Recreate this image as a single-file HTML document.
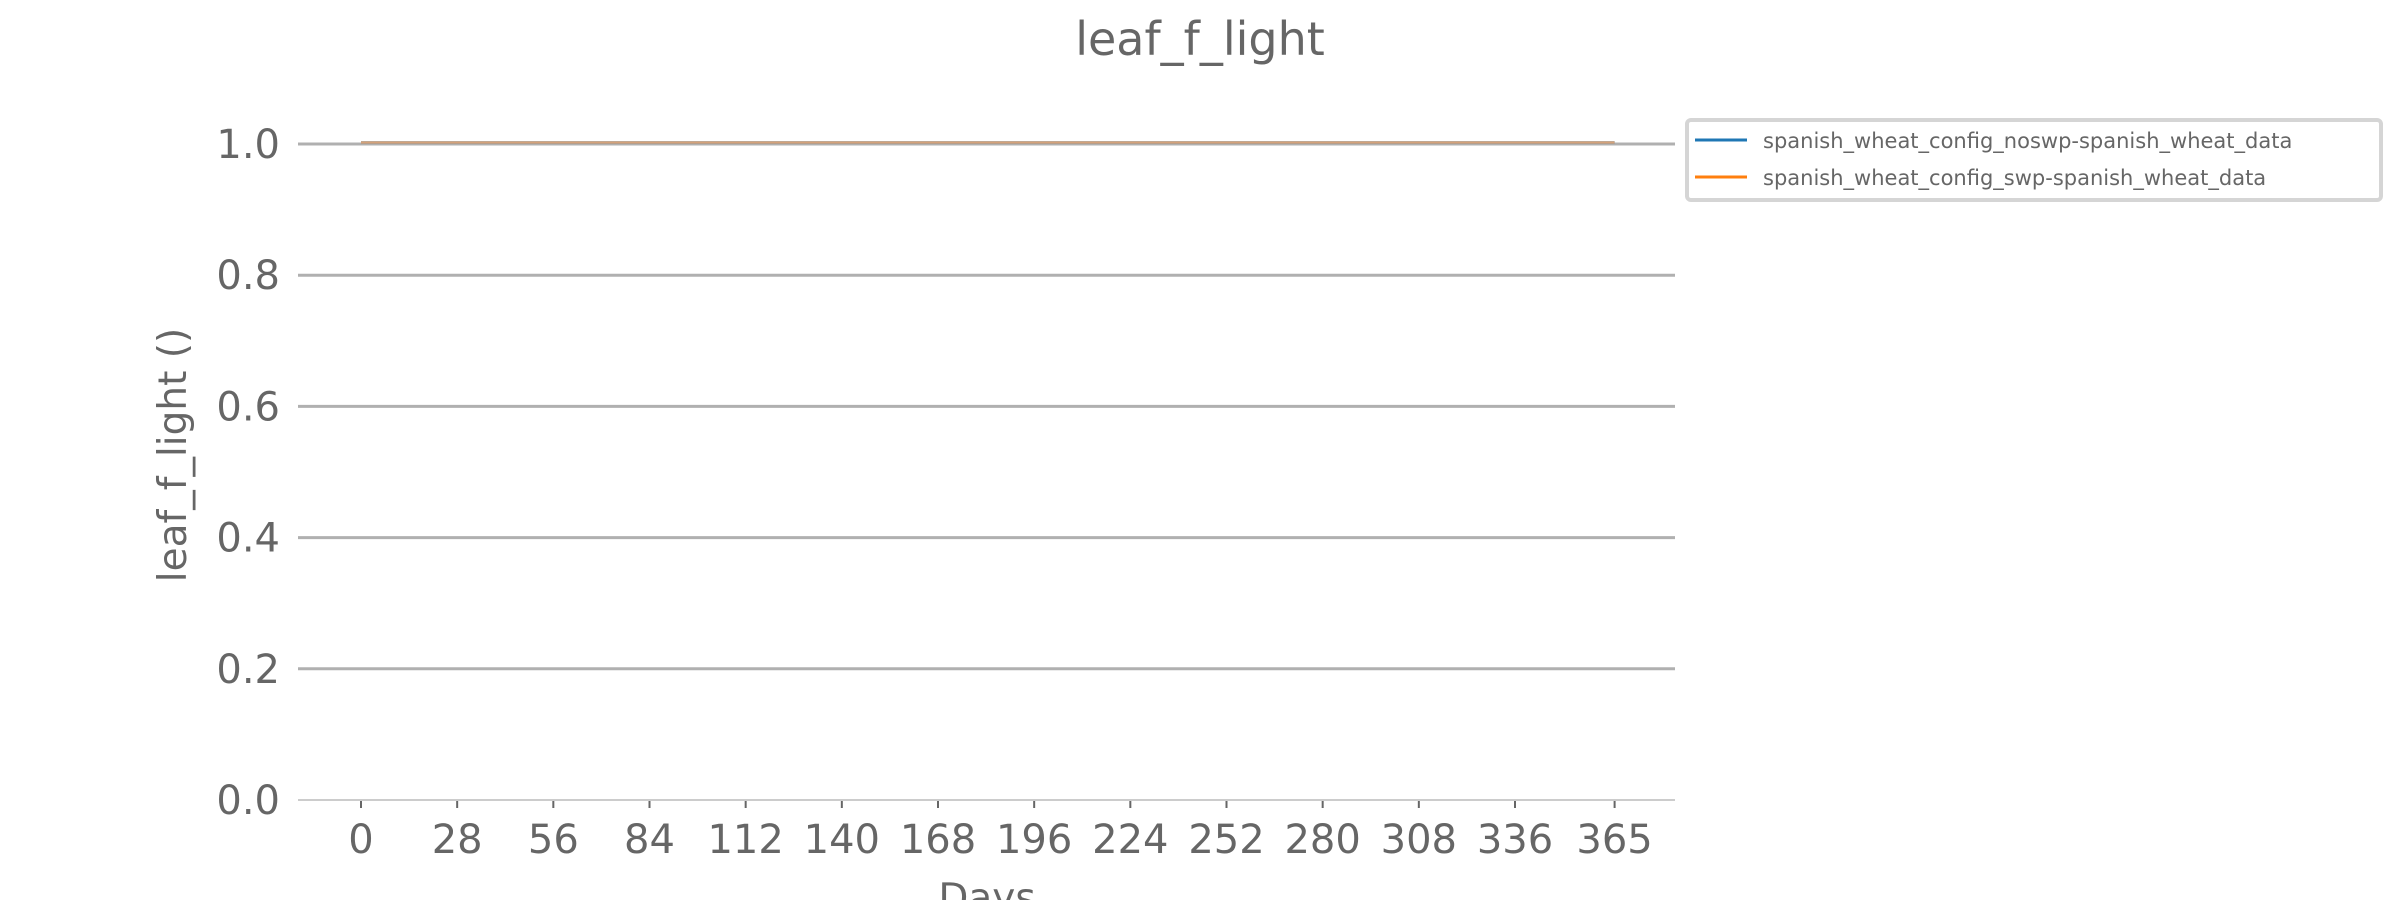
<!DOCTYPE html>
<html><head><meta charset="utf-8"><style>
html,body{margin:0;padding:0;background:#fff;}
svg text{font-family:"DejaVu Sans","Liberation Sans",sans-serif;fill:#666;}
</style></head><body>
<svg id="chart" width="2400" height="900" viewBox="0 0 2400 900" xmlns="http://www.w3.org/2000/svg">
<text x="1200" y="55" font-size="46" text-anchor="middle">leaf_f_light</text>
<g id="grid"></g>
<g id="xaxis"></g>
<g id="yaxis"></g>
<g id="series"></g>
<text transform="translate(186,455) rotate(-90)" font-size="39" text-anchor="middle">leaf_f_light ()</text>
<text x="987" y="911" font-size="39" text-anchor="middle">Days</text>
<g>
<rect x="1687" y="120" width="694" height="80" rx="4" fill="#fff" stroke="#d5d5d5" stroke-width="4"/>
<line x1="1695" y1="140" x2="1747" y2="140" stroke="#1f77b4" stroke-width="3"/>
<text x="1763" y="148" font-size="21">spanish_wheat_config_noswp-spanish_wheat_data</text>
<line x1="1695" y1="177" x2="1747" y2="177" stroke="#ff7f0e" stroke-width="3"/>
<text x="1763" y="185" font-size="21">spanish_wheat_config_swp-spanish_wheat_data</text>
</g>
</svg>
<script>
const xTicks = [0,28,56,84,112,140,168,196,224,252,280,308,336,365];
const yTicks = [0.0,0.2,0.4,0.6,0.8,1.0];
const days = [0,365];
const noswpValues = [1.0,1.0];
const swpValues = [1.0,1.0];
const NS='http://www.w3.org/2000/svg';
function xs(d){return 361 + d*(1515-361)/336;}
function ys(v){return 800 - v*(800-144);}
function mk(tag,attrs,parent){const e=document.createElementNS(NS,tag);for(const k in attrs)e.setAttribute(k,attrs[k]);parent.appendChild(e);return e;}
const grid=document.getElementById('grid'),xa=document.getElementById('xaxis'),ya=document.getElementById('yaxis'),ser=document.getElementById('series');
yTicks.forEach(v=>{
  const y=ys(v);
  if(v>0){const g=mk('line',{x1:298,x2:1675,y1:y,y2:y,stroke:'#b0b0b0','stroke-width':3},grid);
  
  }
  const t=mk('text',{x:280,y:y+14,'font-size':40,'text-anchor':'end'},ya);
  t.textContent=v.toFixed(1);
  
  
});
const base=mk('line',{x1:298,x2:1675,y1:800,y2:800,stroke:'#cccccc','stroke-width':2},xa);


xTicks.forEach(d=>{
  const x=xs(d);
  const tk=mk('line',{x1:x,x2:x,y1:801,y2:808,stroke:'#666','stroke-width':2},xa);
  
  
  const t=mk('text',{x:x,y:853,'font-size':40,'text-anchor':'middle'},xa);
  t.textContent=d;
  
  
});
function path(vals){return days.map((d,i)=>(i?'L':'M')+xs(d)+' '+(ys(vals[i])-1.5)).join(' ');}
const p1=mk('path',{d:path(noswpValues),stroke:'#1f77b4','stroke-width':2.5,fill:'none'},ser);


const p2=mk('path',{d:path(swpValues),stroke:'#d4a27a','stroke-width':2.5,fill:'none'},ser);


</script>
</body></html>
